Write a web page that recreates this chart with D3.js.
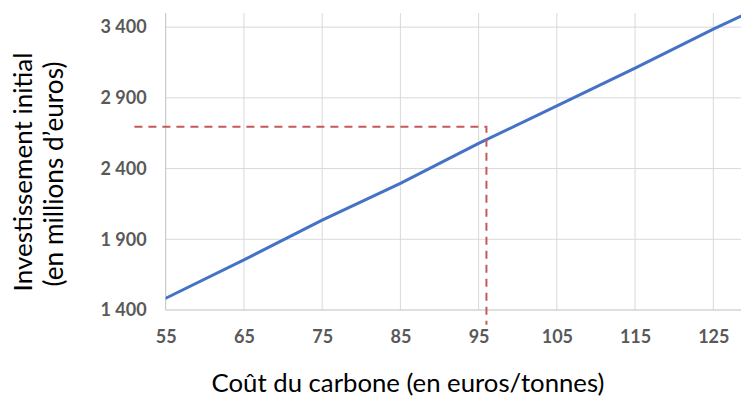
<!DOCTYPE html>
<html><head><meta charset="utf-8">
<script src="https://cdn.jsdelivr.net/npm/d3@7"></script>
<style>body{margin:0;background:#fff}svg{display:block}</style>
</head><body><svg id="c" width="741" height="398"></svg>
<script>
const costs = [55, 65, 75, 85, 95, 105, 115, 125, 130];
const investment = [1483, 1754, 2036, 2296, 2578, 2843, 3110, 3386, 3515];
const xTicks = [55, 65, 75, 85, 95, 105, 115, 125];
const yTicks = [1400, 1900, 2400, 2900, 3400];
const refX = [51, 96, 96];
const refY = [2695, 2695, 1295];
const xTitle = "Coût du carbone (en euros/tonnes)";
const yTitle = ["Investissement initial", "(en millions d’euros)"];

const pL = 165.7, pR = 741, pT = 13, pB = 310;
const svg = d3.select("#c");
const x = d3.scaleLinear().domain([55, 125]).range([pL, 713.3]);
const y = d3.scaleLinear().domain([1400, 3500]).range([pB, pT]);
const loc = d3.formatLocale({decimal: ",", thousands: " ", grouping: [3], currency: ["", " €"]});
const fmt = loc.format(",");

svg.append("defs").append("clipPath").attr("id", "clip")
  .append("rect").attr("x", pL).attr("y", 0).attr("width", pR - pL).attr("height", pB);

// gridlines
svg.append("g").selectAll("line").data(yTicks.slice(1)).join("line")
  .attr("x1", pL).attr("x2", pR).attr("y1", d => y(d)).attr("y2", d => y(d))
  .attr("stroke", "#d9d9d9").attr("stroke-width", 1);
svg.append("g").selectAll("line").data(xTicks.slice(1)).join("line")
  .attr("x1", d => x(d)).attr("x2", d => x(d)).attr("y1", pT).attr("y2", pB)
  .attr("stroke", "#d9d9d9").attr("stroke-width", 1);
// axis lines
svg.append("line").attr("x1", pL).attr("x2", pL).attr("y1", pT).attr("y2", pB)
  .attr("stroke", "#bfbfbf").attr("stroke-width", 1);
svg.append("line").attr("x1", pL).attr("x2", pR).attr("y1", pB).attr("y2", pB)
  .attr("stroke", "#bfbfbf").attr("stroke-width", 1);

// tick labels
const ya = svg.append("g").attr("transform", `translate(${pL},0)`)
  .call(d3.axisLeft(y).tickValues(yTicks).tickSize(0).tickPadding(19).tickFormat(fmt));
const xa = svg.append("g").attr("transform", `translate(0,${pB})`)
  .call(d3.axisBottom(x).tickValues(xTicks).tickSize(0).tickPadding(20).tickFormat(fmt));
[ya, xa].forEach(a => {
  a.select(".domain").remove();
  a.selectAll("text").attr("font-family", "Lato, sans-serif").attr("font-weight", "bold")
    .attr("font-size", 18).attr("fill", "#595959");
});

// data line
const pts = costs.map((c, i) => [c, investment[i]]);
svg.append("path").datum(pts).attr("clip-path", "url(#clip)")
  .attr("d", d3.line().x(d => x(d[0])).y(d => y(d[1])))
  .attr("fill", "none").attr("stroke", "#4472c4").attr("stroke-width", 3).attr("stroke-linecap", "round");

// reference dashed line
const ref = refX.map((v, i) => [v, refY[i]]);
svg.append("path").datum(ref)
  .attr("d", d3.line().x(d => x(d[0])).y(d => y(d[1])))
  .attr("fill", "none").attr("stroke", "#c55a5a").attr("stroke-width", 2).attr("stroke-dasharray", "8,6");

// titles
function fit(t, target) {
  const w = t.node().getComputedTextLength();
  const fs = +t.attr("font-size");
  t.attr("font-size", fs * target / w);
}
const xt = svg.append("text").attr("x", 408).attr("y", 392).attr("text-anchor", "middle")
  .attr("font-family", "Lato, sans-serif").attr("font-size", 22).attr("fill", "#000").text(xTitle);
fit(xt, 393);
const yt1 = svg.append("text").attr("transform", "translate(32,172) rotate(-90)").attr("text-anchor", "middle")
  .attr("font-family", "Lato, sans-serif").attr("font-size", 22).attr("fill", "#000").text(yTitle[0]);
fit(yt1, 239);
const yt2 = svg.append("text").attr("transform", "translate(63,174) rotate(-90)").attr("text-anchor", "middle")
  .attr("font-family", "Lato, sans-serif").attr("font-size", 22).attr("fill", "#000").text(yTitle[1]);
fit(yt2, 225);
</script></body></html>
